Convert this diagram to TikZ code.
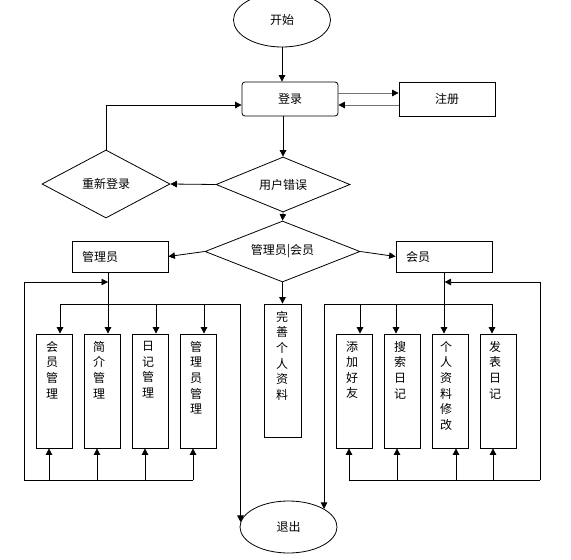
\documentclass[tikz,border=0pt]{standalone}
\usepackage{fontspec}
\newfontfamily\cjkf{Noto Sans CJK SC}
\usetikzlibrary{arrows.meta,shapes.geometric}
\definecolor{lgray}{gray}{0.45}
\begin{document}
\begin{tikzpicture}[x=1pt,y=-1pt,
  every node/.style={font=\cjkf\fontsize{12}{15.6}\selectfont, inner sep=0pt},
  conn/.style={line width=0.8pt, draw=black},
  arr/.style={conn, -{Triangle[length=6.5pt,width=6.5pt]}},
  garr/.style={line width=0.8pt, draw=lgray, -{Triangle[length=6.5pt,width=6.5pt,color=black]}},
  box/.style={draw, line width=0.8pt, rectangle},
  rbox/.style={box, rounded corners=3pt},
  dia/.style={draw, line width=0.8pt, diamond, aspect=2.5},
  term/.style={draw, line width=0.8pt, ellipse},
  vbox/.style={box, minimum width=36pt, minimum height=114pt},
  vtext/.style={anchor=north, align=center},
  sidebox/.style={box, minimum width=96pt, minimum height=31pt, text width=76pt, align=left, inner xsep=10pt},
]
\fill[white] (0,0) rectangle (571,560);
\useasboundingbox (0,0) rectangle (571,560);

% terminals and main nodes
\node[term, minimum width=97pt, minimum height=54pt] (start) at (282,20) {开始};
\node[rbox, minimum width=96pt, minimum height=34pt] (login) at (290,99) {登录};
\node[box, minimum width=96pt, minimum height=34pt] (reg) at (447,99) {注册};
\node[dia, minimum width=134pt, minimum height=55pt] (err) at (283,184.5) {用户错误};
\node[dia, minimum width=128pt, minimum height=68pt] (relog) at (106,184) {重新登录};
\node[dia, minimum width=155pt, minimum height=61pt] (role) at (282.5,251.5) {管理员|会员};
\node[sidebox] (admin) at (120,256.5) {管理员};
\node[sidebox] (member) at (444,256.5) {会员};
\node[box, minimum width=37pt, minimum height=133pt] (perf) at (282.5,370.5) {};
\node[vtext] (perft) at (282,311) {完\\善\\个\\人\\资\\料};
\node[term, minimum width=97pt, minimum height=52pt] (exit) at (288.5,527) {退出};

% admin sub boxes
\node[vbox] (a1) at (54,391) {};
\node[vbox] (a2) at (102,391) {};
\node[vbox] (a3) at (150,391) {};
\node[vbox] (a4) at (198,391) {};
\node[vtext] (a1t) at (52,341) {会\\员\\管\\理};
\node[vtext] (a2t) at (99,341) {简\\介\\管\\理};
\node[vtext] (a3t) at (148,341) {日\\记\\管\\理};
\node[vtext] (a4t) at (196,341) {管\\理\\员\\管\\理};

% member sub boxes
\node[vbox] (m1) at (354,391) {};
\node[vbox] (m2) at (402,391) {};
\node[vbox] (m3) at (450,391) {};
\node[vbox] (m4) at (498,391) {};
\node[vtext] (m1t) at (352,341) {添\\加\\好\\友};
\node[vtext] (m2t) at (400,341) {搜\\索\\日\\记};
\node[vtext] (m3t) at (446,341) {个\\人\\资\\料\\修\\改};
\node[vtext] (m4t) at (495,341) {发\\表\\日\\记};

% top part connectors
\draw[arr] (start.south) -- (start.south |- login.north);
\draw[garr] ([yshift=6pt]login.east) -- ([yshift=6pt]reg.west);
\draw[garr] ([yshift=-6pt]reg.west) -- ([yshift=-6pt]login.east);
\draw[arr] (err.north |- login.south) -- (err.north);
\draw[arr] (err.west) -- (relog.east);
\draw[arr] (relog.north) |- ([yshift=-6pt]login.west);
\draw[arr] (err.south) -- (role.north);
\draw[arr] (role.west) -- (admin.east);
\draw[arr] (role.east) -- (member.west);
\draw[arr] (role.south) -- (perf.north);

% admin side
\coordinate (busY) at (0,304);
\coordinate (aV) at (108,282);
\draw[arr] ([xshift=-12pt]admin.south) -- ([xshift=6pt]a2.north);
\draw[conn] (60,304) -- (exit.174 |- busY);
\draw[arr] (exit.174 |- busY) -- (exit.174);
\draw[arr] (60,304) -- ([xshift=6pt]a1.north);
\draw[arr] (156,304) -- ([xshift=6pt]a3.north);
\draw[arr] (204,304) -- ([xshift=6pt]a4.north);
\draw[conn] (24,480) -- (193,480);
\draw[arr] (49,480) -- ([xshift=-5pt]a1.south);
\draw[arr] (97,480) -- ([xshift=-5pt]a2.south);
\draw[arr] (145,480) -- ([xshift=-5pt]a3.south);
\draw[arr] (193,480) -- ([xshift=-5pt]a4.south);
\draw[arr] (24,480) |- (aV);

% member side
\coordinate (mV) at (444.6,282);
\draw[arr] (member.south) -- ([xshift=-6pt]m3.north);
\draw[conn] (exit.27 |- busY) -- (492,304);
\draw[arr] (exit.27 |- busY) -- (exit.27);
\draw[arr] (360,304) -- ([xshift=6pt]m1.north);
\draw[arr] (396,304) -- ([xshift=-6pt]m2.north);
\draw[arr] (492,304) -- ([xshift=-6pt]m4.north);
\draw[conn] (349,480) -- (540,480);
\draw[arr] (349,480) -- ([xshift=-5pt]m1.south);
\draw[arr] (397,480) -- ([xshift=-5pt]m2.south);
\draw[arr] (456,480) -- ([xshift=6pt]m3.south);
\draw[arr] (493,480) -- ([xshift=-5pt]m4.south);
\draw[arr] (540,480) |- (mV);
\end{tikzpicture}
\end{document}
